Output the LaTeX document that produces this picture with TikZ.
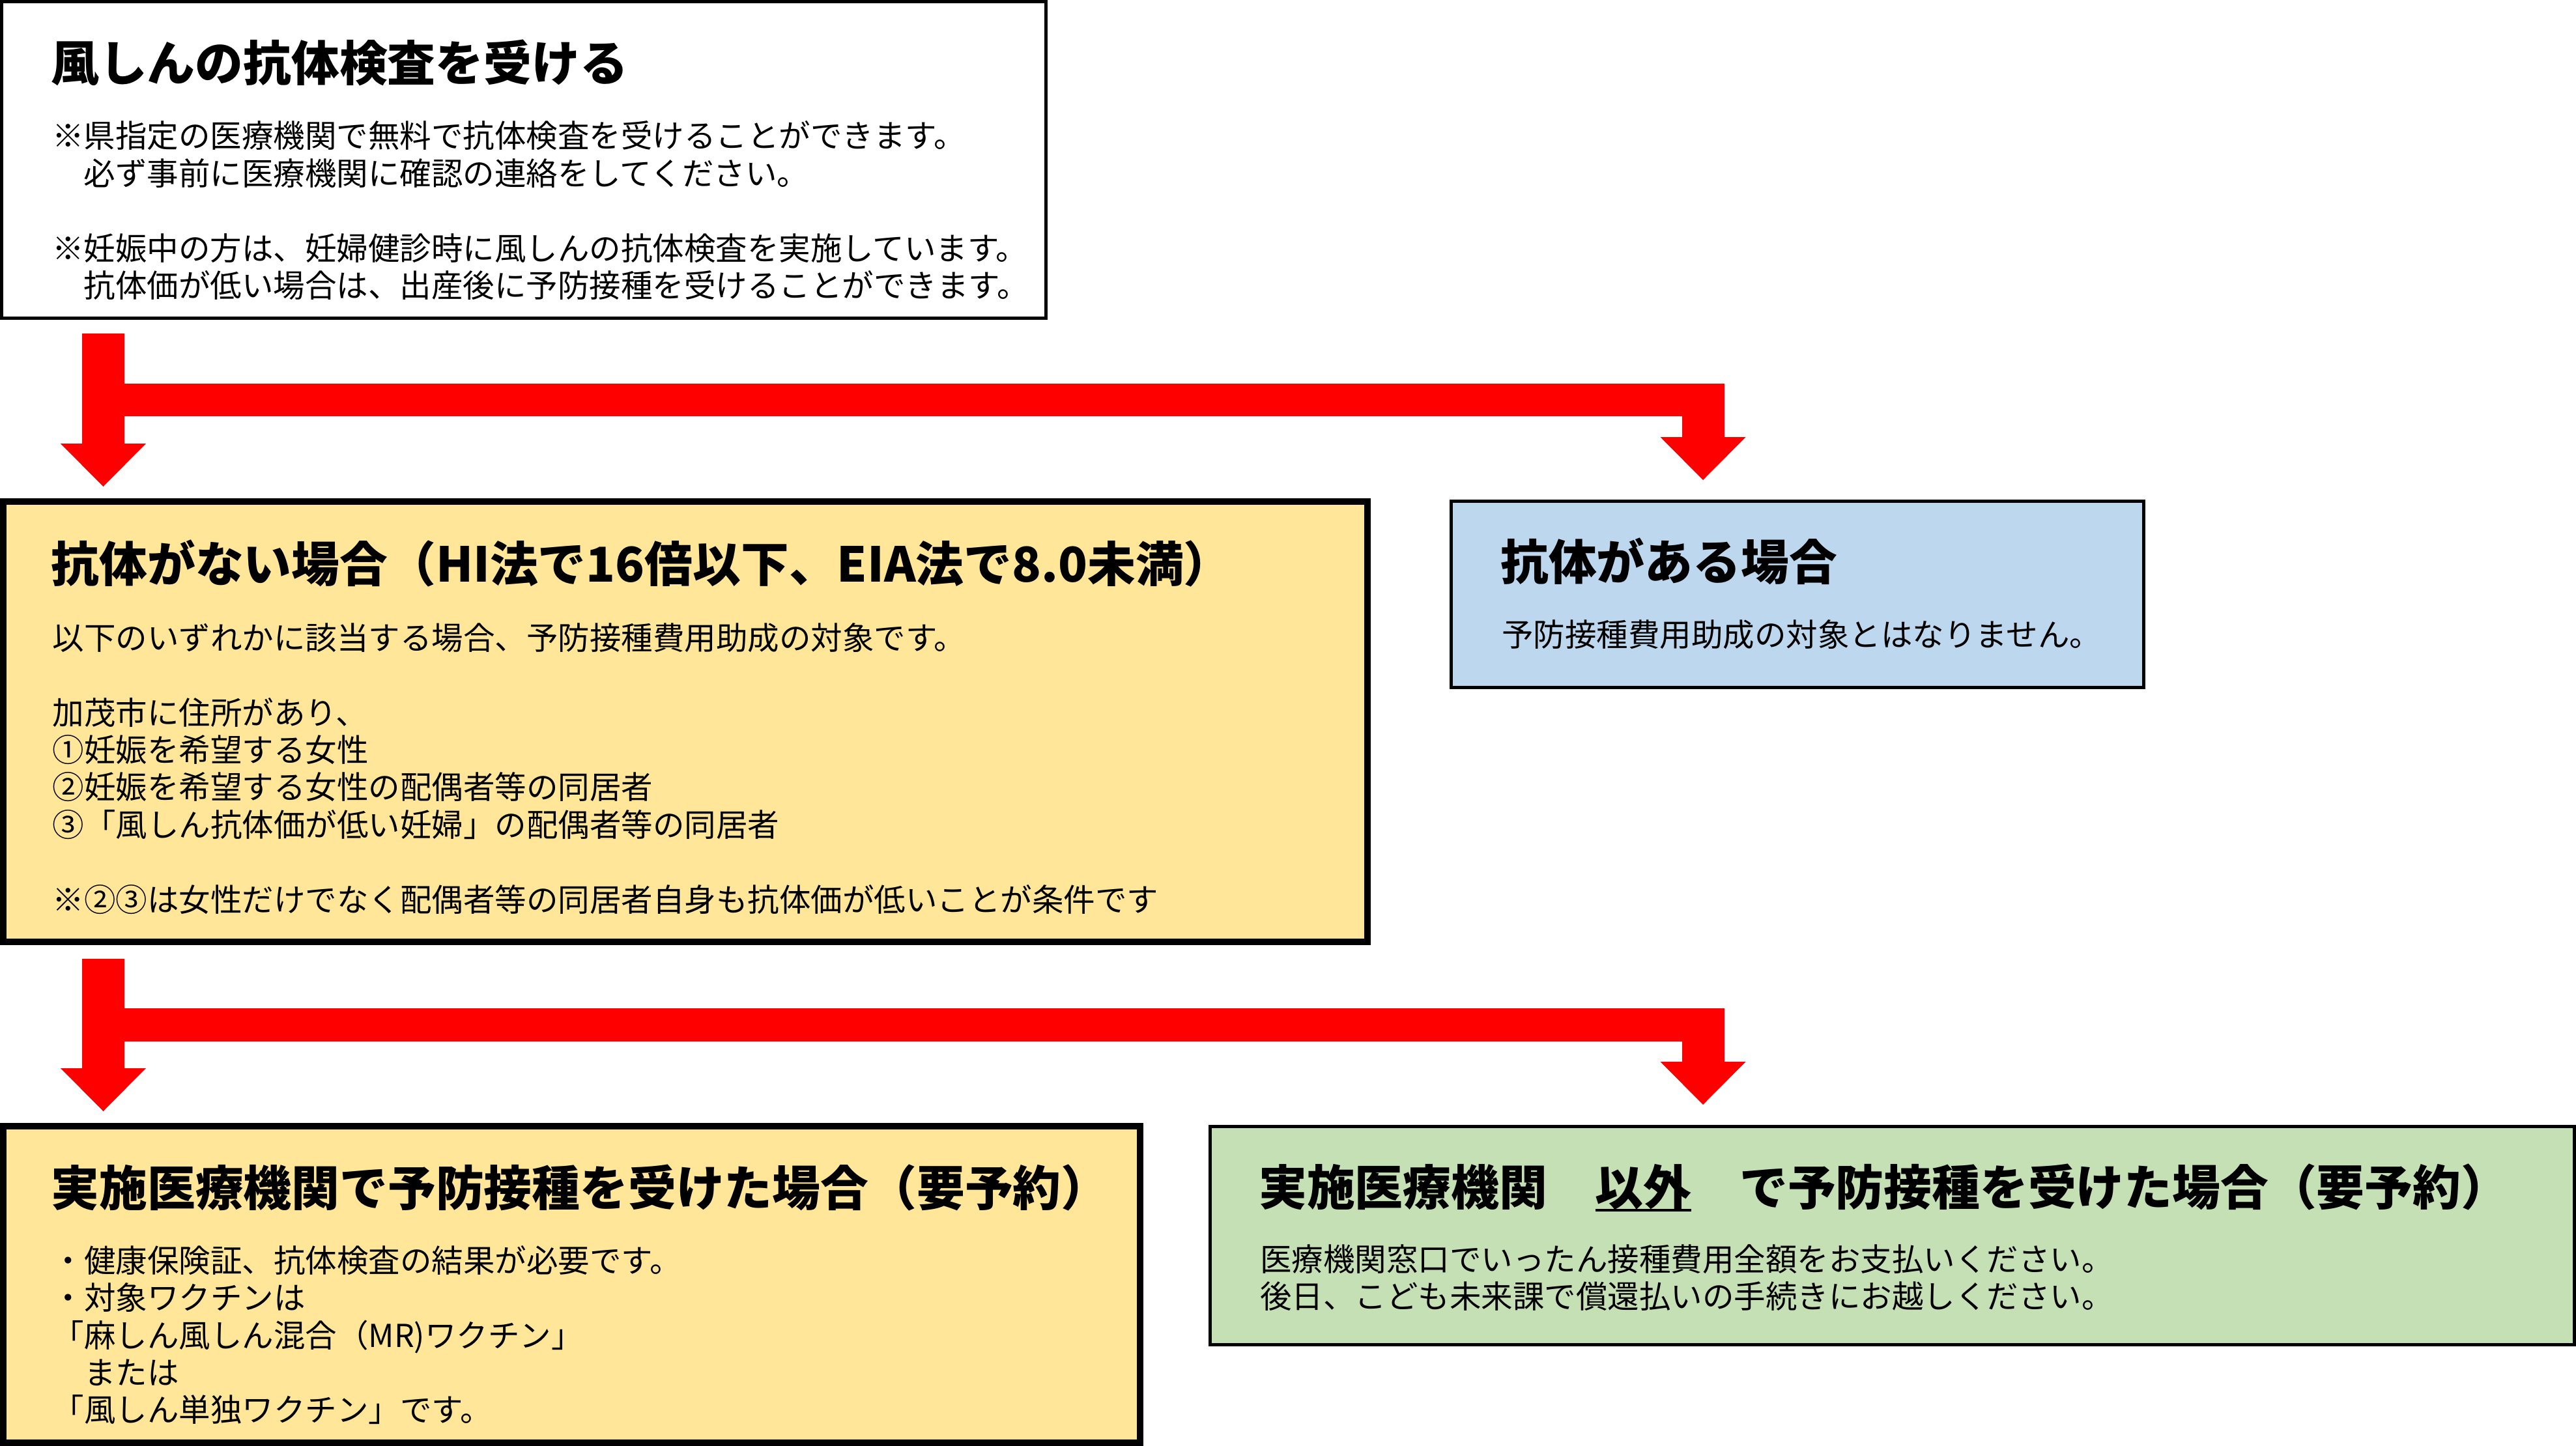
\documentclass[tikz,border=0pt]{standalone}
\usepackage{fontspec}
\setmainfont{Noto Sans CJK JP}
\usepackage{tikz}
\usetikzlibrary{arrows.meta,positioning,calc}
\definecolor{boxYellow}{RGB}{255,230,153}
\definecolor{boxBlue}{RGB}{189,215,238}
\definecolor{boxGreen}{RGB}{197,224,180}
\definecolor{arrowRed}{RGB}{255,0,0}
\newcommand{\ulmark}[1]{\setbox0\hbox{#1}\rlap{\rule[-0.13em]{\wd0}{0.05em}}\box0}
\newcommand{\bodystrut}{\rule{0pt}{12.7pt}}

\begin{document}
\begin{tikzpicture}[
    panel/.style={draw, line width=0.05cm, outer sep=0pt, inner sep=0pt, anchor=north west},
    heavy/.style={line width=0.1cm},
    headtext/.style={anchor=west, inner sep=0pt, font=\fontsize{21pt}{24pt}\selectfont\bfseries},
    bodytext/.style={anchor=north west, inner sep=0pt, align=left, font=\fontsize{13.8pt}{16.33pt}\selectfont},
    downarrow/.style={draw=arrowRed, line width=0.65cm, -{Triangle[length=0.66cm,width=1.31cm,line width=0pt]}},
    crossbar/.style={draw=arrowRed, line width=0.5cm}
  ]
  \useasboundingbox (0,0) rectangle (39.54,-22.2);

  % boxes
  \node[panel, minimum width=16.025cm, minimum height=4.86cm] (test) at (0.025,-0.025) {};
  \node[panel, heavy, fill=boxYellow, minimum width=20.94cm, minimum height=6.76cm] (nonimmune) at (0.05,-7.70) {};
  \node[panel, fill=boxBlue, minimum width=10.625cm, minimum height=2.86cm] (immune) at (22.275,-7.695) {};
  \node[panel, heavy, fill=boxYellow, minimum width=17.45cm, minimum height=4.86cm] (clinic) at (0.05,-17.29) {};
  \node[panel, fill=boxGreen, minimum width=20.94cm, minimum height=3.35cm] (other) at (18.575,-17.295) {};

  % texts
  \node[headtext] (testhead) at ($(test.north west)+(0.75,-0.94)$) {風しんの抗体検査を受ける};
  \node[bodytext] (testbody) at ($(test.north west)+(0.77,-1.79)$) {\bodystrut ※県指定の医療機関で無料で抗体検査を受けることができます。\\
    　必ず事前に医療機関に確認の連絡をしてください。\\[0.574cm]
    ※妊娠中の方は、妊婦健診時に風しんの抗体検査を実施しています。\\
    　抗体価が低い場合は、出産後に予防接種を受けることができます。};

  \node[headtext] (nonimmunehead) at ($(nonimmune.north west)+(0.73,-0.95)$) {抗体がない場合（HI法で16倍以下、EIA法で8.0未満）};
  \node[bodytext] (nonimmunebody) at ($(nonimmune.north west)+(0.75,-1.82)$) {\bodystrut 以下のいずれかに該当する場合、予防接種費用助成の対象です。\\[0.574cm]
    加茂市に住所があり、\\
    ①妊娠を希望する女性\\
    ②妊娠を希望する女性の配偶者等の同居者\\
    ③「風しん抗体価が低い妊婦」の配偶者等の同居者\\[0.574cm]
    ※②③は女性だけでなく配偶者等の同居者自身も抗体価が低いことが条件です};

  \node[headtext] (immunehead) at ($(immune.north west)+(0.75,-0.925)$) {抗体がある場合};
  \node[bodytext] (immunebody) at ($(immune.north west)+(0.77,-1.775)$) {\bodystrut 予防接種費用助成の対象とはなりません。};

  \node[headtext] (clinichead) at ($(clinic.north west)+(0.73,-0.94)$) {実施医療機関で予防接種を受けた場合（要予約）};
  \node[bodytext] (clinicbody) at ($(clinic.north west)+(0.75,-1.79)$) {\bodystrut ・健康保険証、抗体検査の結果が必要です。\\
    ・対象ワクチンは\\
    「麻しん風しん混合（MR)ワクチン」\\
    　または\\
    「風しん単独ワクチン」です。};

  \node[headtext] (otherhead) at ($(other.north west)+(0.74,-0.935)$) {実施医療機関　\ulmark{以外}　で予防接種を受けた場合（要予約）};
  \node[bodytext] (otherbody) at ($(other.north west)+(0.76,-1.765)$) {\bodystrut 医療機関窓口でいったん接種費用全額をお支払いください。\\
    後日、こども未来課で償還払いの手続きにお越しください。};

  % arrows
  \coordinate (colL) at (1.585,0);
  \coordinate (colR) at (26.14,0);
  \draw[downarrow] ($(test.south -| colL)+(0,-0.235)$) -- ($(nonimmune.north -| colL)+(0,0.23)$);
  \draw[crossbar] ($(test.south -| colL)+(0,-1.255)$) -- ($(test.south -| colR)+(0.33,-1.255)$);
  \draw[downarrow] ($(test.south -| colR)+(0,-1.255)$) -- ($(immune.north -| colR)+(0,0.325)$);

  \draw[downarrow] ($(nonimmune.south -| colL)+(0,-0.26)$) -- ($(clinic.north -| colL)+(0,0.23)$);
  \draw[crossbar, line width=0.51cm] ($(nonimmune.south -| colL)+(0,-1.275)$) -- ($(nonimmune.south -| colR)+(0.33,-1.275)$);
  \draw[downarrow] ($(nonimmune.south -| colR)+(0,-1.275)$) -- ($(other.north -| colR)+(0,0.335)$);
\end{tikzpicture}
\end{document}
